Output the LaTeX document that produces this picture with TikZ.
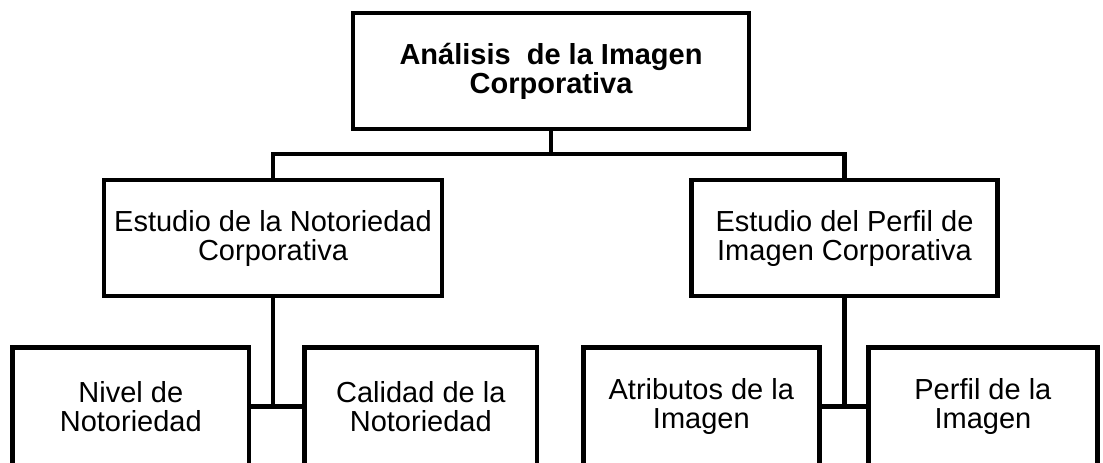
\documentclass[tikz,border=0pt]{standalone}
\usepackage{fontspec}
\setmainfont{Liberation Sans}
\usepackage{tikz}

\begin{document}
\begin{tikzpicture}[x=1pt,y=-1pt,
    box/.style={draw,line width=4.6pt,align=center,inner sep=0pt,
        font=\fontsize{29}{29}\selectfont},
    link/.style={line width=4.6pt}]
    \useasboundingbox (0,0) rectangle (1103,463);
    % top of the tree
    \node[box,minimum width=396pt,minimum height=116pt,
        font=\fontsize{29}{29}\selectfont\bfseries] (top) at (551,71)
        {Análisis~ de la Imagen\\Corporativa};
    % second level
    \node[box,minimum width=338pt,minimum height=116pt] (lmid) at (273,238)
        {Estudio de la Notoriedad\\Corporativa};
    \node[box,minimum width=305.6pt,minimum height=116pt] (rmid) at (844.5,238)
        {Estudio del Perfil de\\Imagen Corporativa};
    % bottom level, cut off by the page edge
    \node[box,minimum width=236.4pt,minimum height=118.5pt] (nivel) at (130.8,406.75)
        {Nivel de\\Notoriedad};
    \node[box,minimum width=232.4pt,minimum height=118.5pt] (calidad) at (420.8,406.75)
        {Calidad de la\\Notoriedad};
    \node[box,minimum width=236pt,minimum height=118.5pt] (atrib) at (701.3,406.75)
        {Atributos de la\\Imagen};
    \node[box,minimum width=229.2pt,minimum height=118.5pt] (perfil) at (982.9,406.75)
        {Perfil de la\\Imagen};
    % connectors
    \coordinate (split) at (551,154);
    \draw[link] (top.south) -- (split);
    \draw[link] (lmid.north) |- (split) -| (rmid.north);
    \draw[link] (lmid.south) -- (lmid.south |- nivel.east);
    \draw[link] (nivel.east) -- (calidad.west);
    \draw[link] (rmid.south) -- (rmid.south |- atrib.east);
    \draw[link] (atrib.east) -- (perfil.west);
\end{tikzpicture}
\end{document}
